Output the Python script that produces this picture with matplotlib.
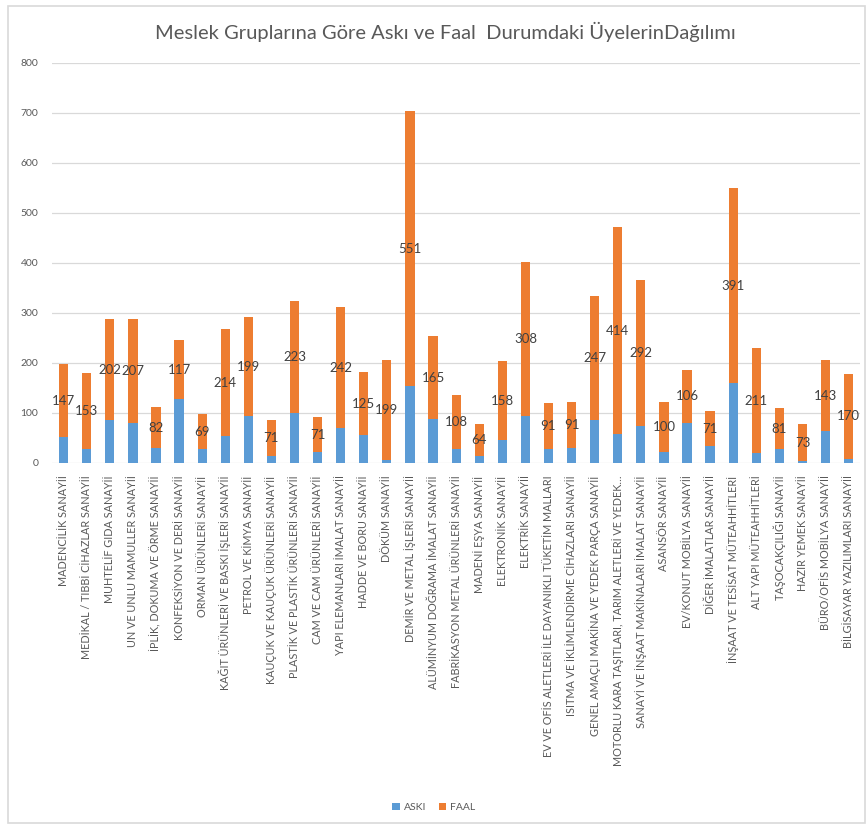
import numpy as np
import matplotlib
matplotlib.use("Agg")
import matplotlib.pyplot as plt
from matplotlib.patches import Rectangle

plt.rcParams['font.family'] = ['Lato', 'DejaVu Sans']

title = "Meslek Gruplarına Göre Askı ve Faal  Durumdaki ÜyelerinDağılımı"

groups = [
    "MADENCİLİK SANAYİİ",
    "MEDİKAL / TIBBİ CİHAZLAR SANAYİİ",
    "MUHTELİF GIDA SANAYİİ",
    "UN VE UNLU MAMULLER SANAYİİ",
    "İPLİK, DOKUMA VE ÖRME SANAYİİ",
    "KONFEKSİYON VE DERİ SANAYİİ",
    "ORMAN ÜRÜNLERİ SANAYİİ",
    "KAĞIT ÜRÜNLERİ VE BASKI İŞLERİ SANAYİİ",
    "PETROL VE KİMYA SANAYİİ",
    "KAUÇUK VE KAUÇUK ÜRÜNLERİ SANAYİİ",
    "PLASTİK VE PLASTİK ÜRÜNLERİ SANAYİİ",
    "CAM VE CAM ÜRÜNLERİ SANAYİİ",
    "YAPI ELEMANLARI İMALAT SANAYİİ",
    "HADDE VE BORU SANAYİİ",
    "DÖKÜM SANAYİİ",
    "DEMİR VE METAL İŞLERİ SANAYİİ",
    "ALÜMİNYUM DOĞRAMA İMALAT SANAYİİ",
    "FABRİKASYON METAL ÜRÜNLERİ SANAYİİ",
    "MADENİ EŞYA SANAYİİ",
    "ELEKTRONİK SANAYİİ",
    "ELEKTRİK SANAYİİ",
    "EV VE OFİS ALETLERİ İLE DAYANIKLI TÜKETİM MALLARI",
    "ISITMA VE İKLİMLENDİRME CİHAZLARI SANAYİİ",
    "GENEL AMAÇLI MAKİNA VE YEDEK PARÇA SANAYİİ",
    "MOTORLU KARA TAŞITLARI, TARIM ALETLERİ VE YEDEK…",
    "SANAYİ VE İNŞAAT MAKİNALARI İMALAT SANAYİİ",
    "ASANSÖR SANAYİİ",
    "EV/KONUT MOBİLYA SANAYİİ",
    "DİĞER İMALATLAR SANAYİİ",
    "İNŞAAT VE TESİSAT MÜTEAHHİTLERİ",
    "ALT YAPI MÜTEAHHİTLERİ",
    "TAŞOCAKÇILIĞI SANAYİİ",
    "HAZIR YEMEK SANAYİİ",
    "BÜRO/OFİS MOBİLYA SANAYİİ",
    "BİLGİSAYAR YAZILIMLARI SANAYİİ",
]

aski = [51, 27, 85, 80, 29, 128, 28, 53, 93, 14, 100, 21, 69, 56, 6, 153, 88,
        28, 13, 45, 93, 28, 30, 86, 57, 73, 21, 80, 33, 159, 19, 28, 4, 63, 8]
faal = [147, 153, 202, 207, 82, 117, 69, 214, 199, 71, 223, 71, 242, 125, 199, 551, 165,
        108, 64, 158, 308, 91, 91, 247, 414, 292, 100, 106, 71, 391, 211, 81, 73, 143, 170]

blue = "#5B9BD5"
orange = "#ED7D31"
grey_txt = "#595959"

fig = plt.figure(figsize=(8.68, 8.3), dpi=100)
fig.patches.append(Rectangle((0.009, 0.008), 0.988, 0.985, transform=fig.transFigure,
                             fill=False, edgecolor="#D9D9D9", linewidth=1.2))

ax = fig.add_axes([0.06, 0.4422, 0.931, 0.4819])
x = np.arange(len(groups))
ax.bar(x, aski, width=0.4, color=blue, label="ASKI", zorder=3)
ax.bar(x, faal, width=0.4, bottom=aski, color=orange, label="FAAL", zorder=3)

# FAAL değerleri turuncu parçanın ortasında
for xi, a, f in zip(x, aski, faal):
    ax.text(xi, a + f / 2, str(f), ha="center", va="center", fontsize=9.5,
            color="#404040", zorder=4)

ax.set_xlim(-0.5, len(groups) - 0.5)
ax.set_ylim(0, 800)
ax.set_yticks(range(0, 801, 100))
ax.yaxis.grid(True, color="#D9D9D9", linewidth=0.9, zorder=0)
ax.set_axisbelow(True)
for s in ax.spines.values():
    s.set_visible(False)
ax.tick_params(axis="both", length=0, colors=grey_txt)
ax.tick_params(axis="y", labelsize=7.5, pad=10)
ax.set_xticks(x)
ax.set_xticklabels(groups, rotation=90, fontsize=7.8, color=grey_txt)
ax.tick_params(axis="x", pad=9)

fig.text(0.513, 0.961, title, ha="center", va="center", fontsize=14.5, color=grey_txt)

fig.legend(loc="center", bbox_to_anchor=(0.5, 0.027), ncol=2, frameon=False,
           fontsize=7.5, handlelength=0.7, handleheight=0.7, handletextpad=0.4,
           columnspacing=1.2, labelcolor=grey_txt)

fig.savefig("out.png", dpi=100, facecolor="white")
